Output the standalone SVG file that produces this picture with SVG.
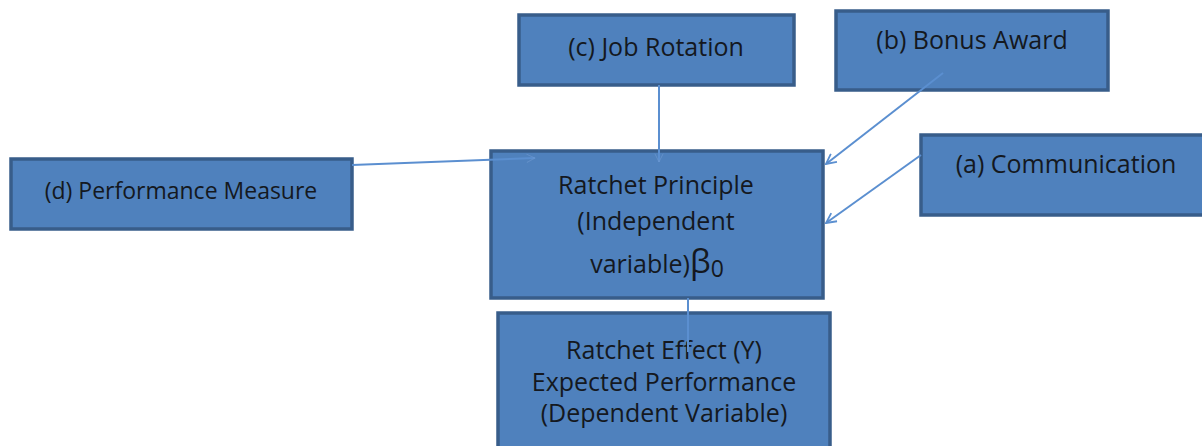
<svg xmlns="http://www.w3.org/2000/svg" width="1202" height="446" viewBox="0 0 1202 446">
<style>
.box{fill:#4f81bd;stroke:#385d8a;stroke-width:3.5}
.t{font-family:"Open Sans","Noto Sans","Liberation Sans",sans-serif;font-size:25px;fill:#141820;text-anchor:middle}
.c{stroke:#5b8fd0;stroke-width:2;fill:none}
</style>
<defs>
<marker id="ah" viewBox="0 0 12 12" refX="11" refY="6" markerWidth="12" markerHeight="12" markerUnits="userSpaceOnUse" orient="auto">
<path d="M1,1 L11,6 L1,11" fill="none" stroke="#5b8fd0" stroke-width="1.8"/>
</marker>
<marker id="ahf" viewBox="0 0 12 12" refX="11" refY="6" markerWidth="10" markerHeight="10" markerUnits="userSpaceOnUse" orient="auto">
<path d="M1,1 L11,6 L1,11" fill="none" stroke="#6f9ad0" stroke-width="1.2" opacity="0.6"/>
</marker>
</defs>
<rect width="1202" height="446" fill="#ffffff"/>
<g id="node-c">
<rect class="box" x="519" y="15" width="275" height="70"/>
<text class="t" x="656" y="56">(c) Job Rotation</text>
</g>
<g id="node-b">
<rect class="box" x="836" y="11" width="272" height="79"/>
<text class="t" x="972" y="49">(b) Bonus Award</text>
</g>
<g id="node-a">
<rect class="box" x="921" y="135" width="284" height="80"/>
<text class="t" x="1066" y="173">(a) Communication</text>
</g>
<g id="node-d">
<rect class="box" x="11" y="159" width="341" height="70"/>
<text class="t" x="181" y="199" style="font-size:23px">(d) Performance Measure</text>
</g>
<g id="node-main">
<rect class="box" x="491" y="151" width="332" height="147"/>
<text class="t" x="656" y="194">Ratchet Principle</text>
<text class="t" x="656" y="230">(Independent</text>
<text class="t" x="657" y="273">variable)<tspan font-size="33">β</tspan><tspan font-size="23" dy="4">0</tspan></text>
</g>
<g id="node-y">
<rect class="box" x="498" y="313" width="332" height="140"/>
<text class="t" x="664" y="359">Ratchet Effect (Y)</text>
<text class="t" x="664" y="391">Expected Performance</text>
<text class="t" x="664" y="422">(Dependent Variable)</text>
</g>
<g id="connectors">
<line class="c" x1="659" y1="85" x2="659" y2="162" marker-end="url(#ahf)"/>
<line class="c" x1="352" y1="165" x2="535" y2="158" marker-end="url(#ahf)"/>
<line class="c" x1="943" y1="73" x2="826" y2="164" marker-end="url(#ah)"/>
<line class="c" x1="921" y1="155" x2="826" y2="223" marker-end="url(#ah)"/>
<line class="c" x1="688" y1="298" x2="688" y2="352"/>
</g>
</svg>
